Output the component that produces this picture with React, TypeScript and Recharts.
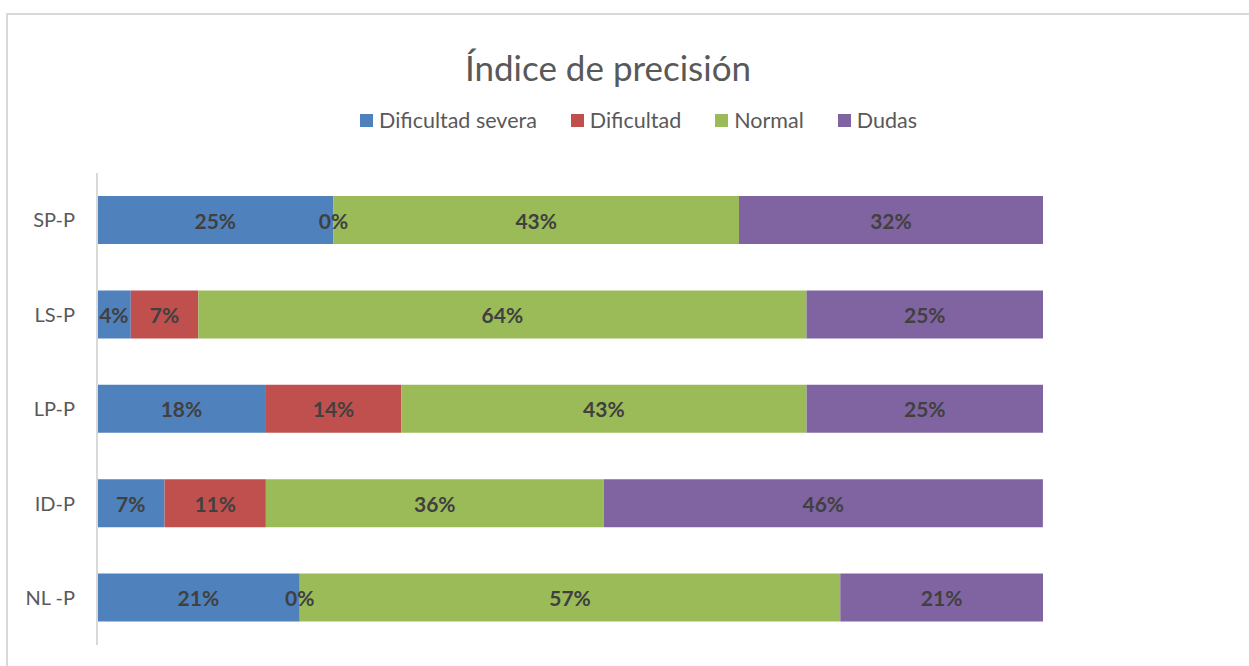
import React from 'react';
import { BarChart, Bar, XAxis, YAxis, LabelList } from 'recharts';

// Percentages per group (28 participants each)
const categories = ['SP-P', 'LS-P', 'LP-P', 'ID-P', 'NL -P'];
const severa = [25.0, 3.57, 17.86, 7.14, 21.43];
const dificultad = [0, 7.14, 14.29, 10.71, 0];
const normal = [42.86, 64.29, 42.86, 35.71, 57.14];
const dudas = [32.14, 25.0, 25.0, 46.43, 21.43];

const seriesNames = ['Dificultad severa', 'Dificultad', 'Normal', 'Dudas'];
const colors = ['#4f81bd', '#c0504d', '#9bbb59', '#8064a2'];
const keys = ['severa', 'dificultad', 'normal', 'dudas'];

const data = categories.map((name, i) => ({
  name,
  severa: severa[i],
  dificultad: dificultad[i],
  normal: normal[i],
  dudas: dudas[i],
}));

const FONT = 'Lato, "Open Sans", sans-serif';

const renderLabel = (props: any) => {
  const { x, y, width, height, value } = props;
  return (
    <text
      x={x + width / 2}
      y={y + height / 2}
      textAnchor="middle"
      dominantBaseline="central"
      fill="#404040"
      fontSize={21}
      fontWeight={700}
      fontFamily={FONT}
    >
      {`${Math.round(value)}%`}
    </text>
  );
};

export default function App() {
  return (
    <div style={{ position: 'absolute', left: 0, top: 0, width: 1249, height: 666, overflow: 'hidden', background: '#fff' }}>
      <div
        style={{
          position: 'absolute',
          left: 6,
          top: 13,
          width: 1300,
          height: 700,
          border: '2px solid #d9d9d9',
          boxSizing: 'border-box',
        }}
      />
      <div
        style={{
          position: 'absolute',
          left: 0,
          width: 1216,
          top: 46,
          textAlign: 'center',
          fontFamily: FONT,
          fontSize: 35,
          color: '#595959',
        }}
      >
        Índice de precisión
      </div>
      <div
        style={{
          position: 'absolute',
          left: 0,
          width: 1277,
          top: 107,
          display: 'flex',
          justifyContent: 'center',
          fontFamily: FONT,
          fontSize: 21.5,
          color: '#595959',
        }}
      >
        {seriesNames.map((n, i) => (
          <div key={n} style={{ display: 'flex', alignItems: 'center', marginRight: i < 3 ? 34 : 0 }}>
            <span style={{ width: 13, height: 13, background: colors[i], display: 'inline-block', marginRight: 6 }} />
            <span>{n}</span>
          </div>
        ))}
      </div>
      <div style={{ position: 'absolute', left: 0, top: 0 }}>
        <BarChart
          width={1249}
          height={666}
          data={data}
          layout="vertical"
          margin={{ top: 173, right: 206, bottom: 21, left: 0 }}
          barSize={48}
        >
          <XAxis type="number" domain={[0, 100]} allowDataOverflow hide />
          <YAxis
            type="category"
            dataKey="name"
            width={97}
            tickLine={false}
            tickSize={0}
            tickMargin={22}
            axisLine={{ stroke: '#d9d9d9', strokeWidth: 2 }}
            tick={{ fill: '#595959', fontSize: 20, fontFamily: FONT }}
          />
          {keys.map((k, i) => (
            <Bar
              key={k}
              dataKey={k}
              name={seriesNames[i]}
              stackId="a"
              fill={colors[i]}
              minPointSize={0.01}
              isAnimationActive={false}
            >
              <LabelList dataKey={k} content={renderLabel} />
            </Bar>
          ))}
        </BarChart>
      </div>
    </div>
  );
}
